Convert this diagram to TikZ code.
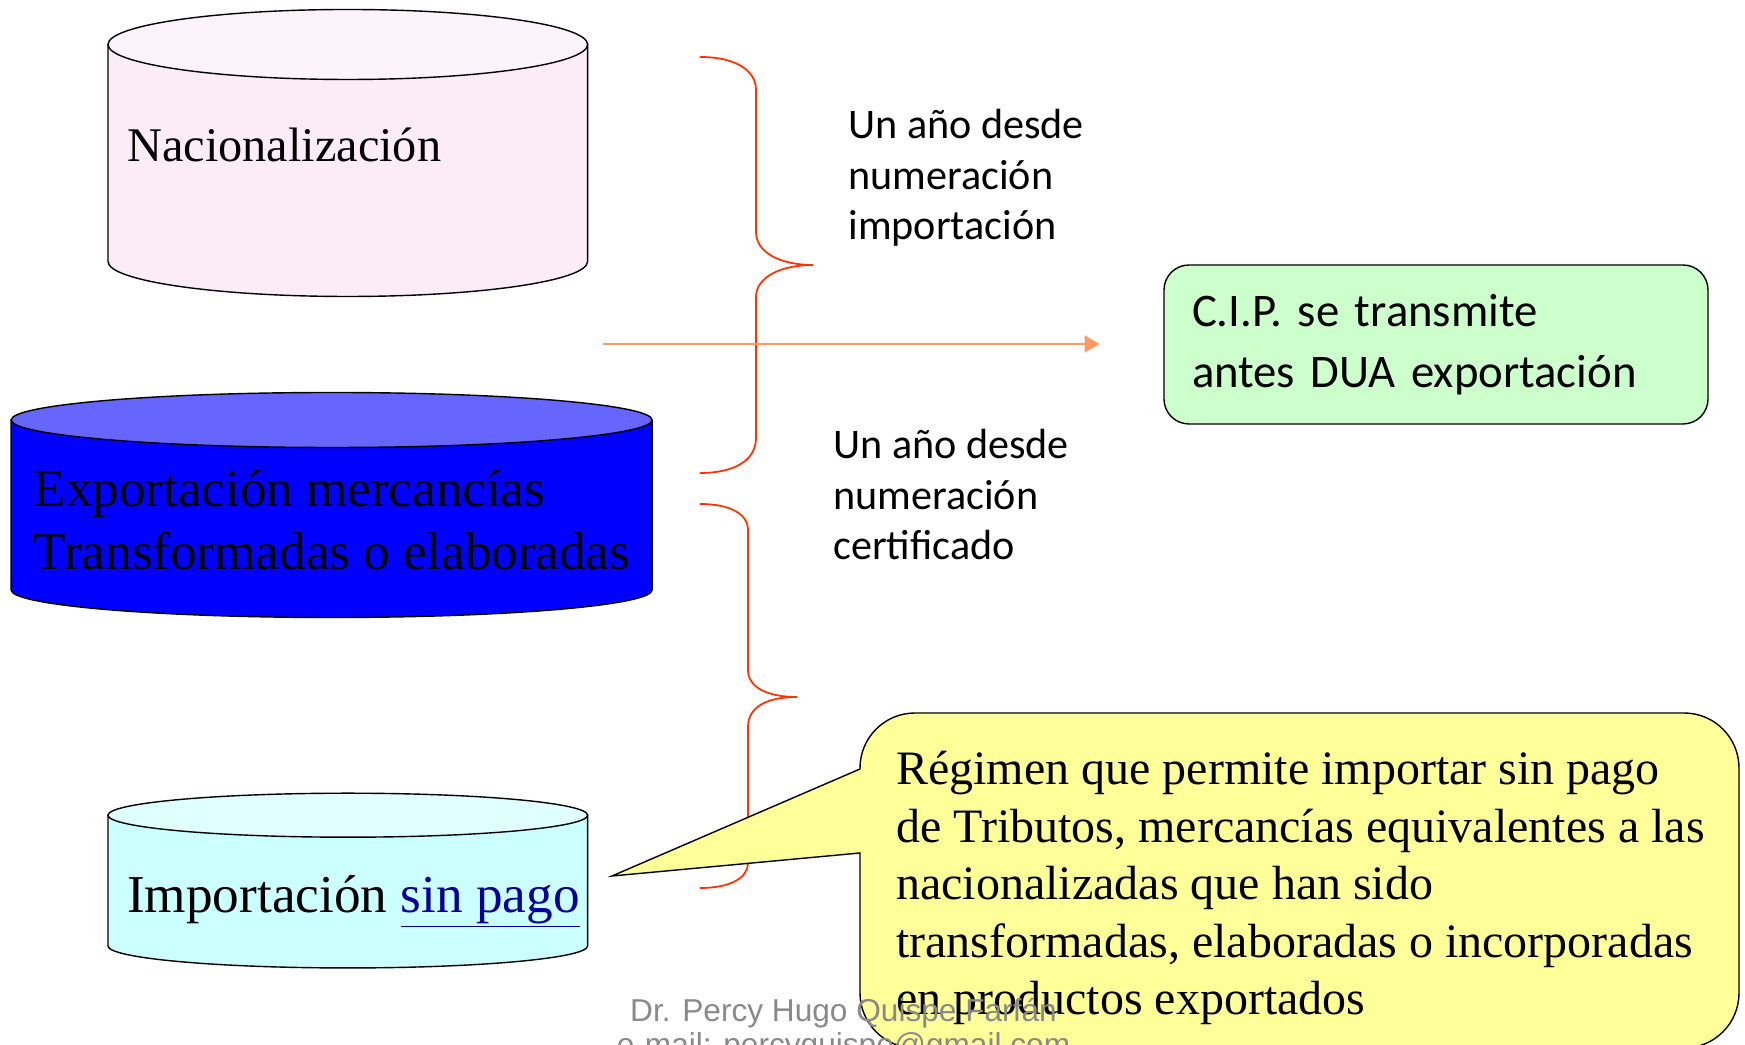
\documentclass[tikz,border=0pt]{standalone}
\usepackage{fontspec}
\setmainfont{Liberation Serif}
\newfontfamily\calibri{Carlito}
\newfontfamily\arialfont{Liberation Sans}
\usetikzlibrary{arrows.meta}

\definecolor{pinkbody}{HTML}{FCECF8}
\definecolor{pinktop}{HTML}{FDF4FB}
\definecolor{bluetop}{HTML}{6666FF}
\definecolor{cyanbody}{HTML}{CCFFFF}
\definecolor{cyantop}{HTML}{E0FFFF}
\definecolor{bracered}{HTML}{FF3300}
\definecolor{arrowsalmon}{HTML}{FF9966}
\definecolor{cipgreen}{HTML}{CCFFCC}
\definecolor{noteyellow}{HTML}{FFFF99}
\definecolor{linkblue}{HTML}{000099}
\definecolor{footgray}{HTML}{898989}

\tikzset{
  outline/.style={draw=black,line width=0.8pt},
  brace/.style={draw=bracered,line width=1pt},
  plazo/.style={font=\calibri\fontsize{24}{29}\selectfont,align=left,anchor=base west,inner sep=0pt},
  rotulo/.style={anchor=base west,inner sep=0pt,align=left},
}

\begin{document}
\begin{tikzpicture}
  \useasboundingbox (0,0) rectangle (34.9,20.9);

  % cilindros
  \draw[outline,fill=pinkbody] (2.16,20.01) -- (2.16,15.67) arc (180:360:4.796 and 0.7) -- (11.752,20.01) -- cycle;
  \draw[outline,fill=pinktop] (6.956,20.01) ellipse (4.796 and 0.7);
  \draw[outline,fill=blue] (0.223,12.50) -- (0.223,9.10) arc (180:360:6.41 and 0.55) -- (13.043,12.50) -- cycle;
  \draw[outline,fill=bluetop] (6.633,12.50) ellipse (6.41 and 0.55);
  \draw[outline,fill=cyanbody] (2.16,4.596) -- (2.16,1.981) arc (180:360:4.796 and 0.44) -- (11.752,4.596) -- cycle;
  \draw[outline,fill=cyantop] (6.956,4.596) ellipse (4.796 and 0.44);

  \node[rotulo,font=\fontsize{27.5}{34}\selectfont] (nacional) at (2.537,17.67) {Nacionalización};
  \node[rotulo,font=\fontsize{30.2}{36}\selectfont] (exporta) at (0.668,9.50) {Exportación mercancías\\Transformadas o elaboradas};
  \node[rotulo,font=\fontsize{30.3}{36}\selectfont] (importa) at (2.537,2.65) {Importación \textcolor{linkblue}{\underline{sin pago}}};

  % llaves
  \draw[brace] (14.0,19.76) .. controls (14.7,19.76) and (15.12,19.5) .. (15.12,19.1) -- (15.12,16.26)
    .. controls (15.12,15.85) and (15.6,15.6) .. (16.26,15.6)
    .. controls (15.6,15.6) and (15.12,15.35) .. (15.12,14.96) -- (15.12,12.14)
    .. controls (15.12,11.7) and (14.7,11.44) .. (14.0,11.44);
  \draw[brace] (14.0,10.82) .. controls (14.6,10.82) and (14.96,10.62) .. (14.96,10.3) -- (14.96,7.5)
    .. controls (14.96,7.15) and (15.35,6.96) .. (15.94,6.96)
    .. controls (15.35,6.96) and (14.96,6.77) .. (14.96,6.36) -- (14.96,3.64)
    .. controls (14.96,3.34) and (14.6,3.14) .. (14.0,3.14);

  \coordinate (desde) at (12.06,14.02);
  \coordinate (hasta) at (21.99,14.02);
  \draw[-{Triangle[length=0.3cm,width=0.34cm]},arrowsalmon,line width=1.2pt] (desde) -- (hasta);

  \node[plazo] (plazo1) at (16.96,16.10) {Un año desde\\numeración\\importación};
  \node[plazo] (plazo2) at (16.66,9.70) {Un año desde\\numeración\\certificado};

  \node[outline,fill=cipgreen,rounded corners=0.5cm,minimum width=10.88cm,minimum height=3.18cm,
    text width=9.76cm,align=left,font=\calibri\fontsize{26.6}{34.5}\selectfont] (cip) at (28.72,14.01)
    {C.I.P. se transmite\\antes DUA exportación};

  % globo
  \draw[outline,fill=noteyellow] (17.2,3.84) -- (17.2,1.04) arc (180:270:1.1) -- (33.68,-0.06) arc (270:360:1.1)
    -- (34.78,5.54) arc (0:90:1.1) -- (18.3,6.64) arc (90:180:1.1) -- (17.2,5.52) -- (12.24,3.38) -- cycle;
  \node[rotulo,font=\fontsize{27.3}{32.8}\selectfont] (regimen) at (17.92,0.60)
    {Régimen que permite importar sin pago\\de Tributos, mercancías equivalentes a las\\nacionalizadas que han sido\\transformadas, elaboradas o incorporadas\\en productos exportados};

  \node[anchor=base,inner sep=0pt,text=footgray,font=\arialfont\fontsize{18}{22}\selectfont] (autor) at (16.87,0.47) {Dr. Percy Hugo Quispe Farfán};
  \node[anchor=base,inner sep=0pt,text=footgray,font=\arialfont\fontsize{18}{22}\selectfont] (correo) at (16.87,-0.22) {e-mail: percyquispe@gmail.com};
\end{tikzpicture}
\end{document}
